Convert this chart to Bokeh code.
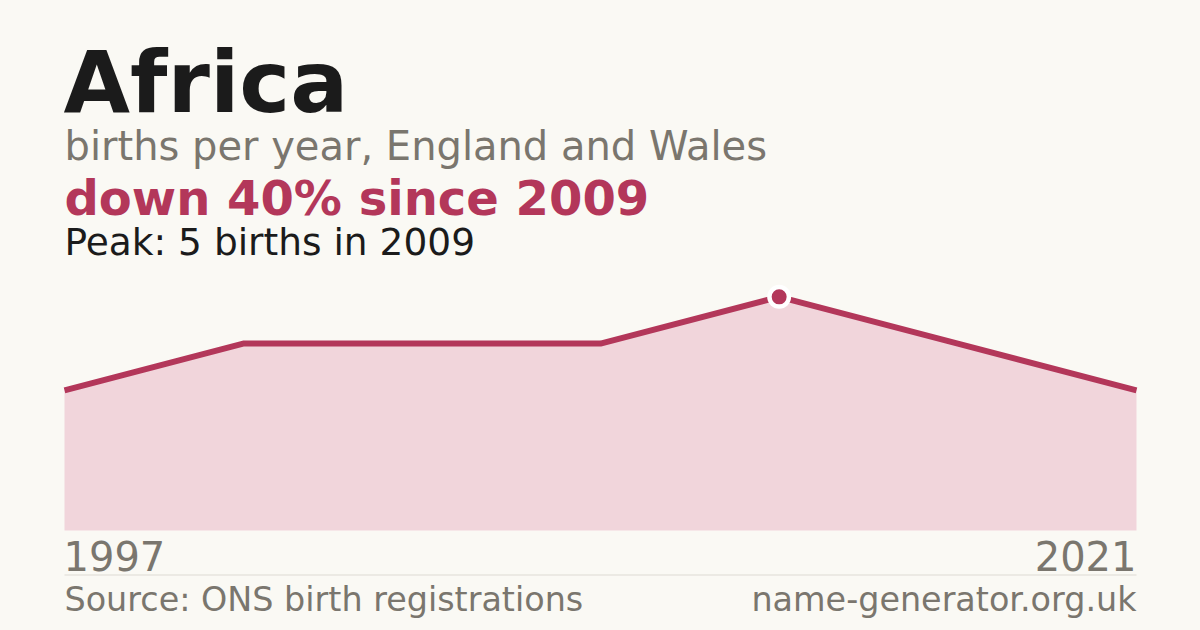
from bokeh.plotting import figure
from bokeh.models import Range1d
from bokeh.core.properties import value
from bokeh.embed import file_html
from bokeh.resources import INLINE

# ---- data ----
years = [1997, 2001, 2005, 2009, 2013, 2017, 2021]
births = [3, 4, 4, 4, 5, 4, 3]
title = "Africa"
subtitle = "births per year, England and Wales"
headline = "down 40% since 2009"
peak_note = "Peak: 5 births in 2009"
source = "Source: ONS birth registrations"
site = "name-generator.org.uk"
first_label = str(years[0])
last_label = str(years[-1])

# ---- style ----
BG = "#faf9f4"
RED = "#b3375a"
FILL = "#f1d5db"
GRAY = "#7a766e"
DARK = "#1b1b1b"
FONT = value("DejaVu Sans")

W, H = 1200, 630
L, R = 64, 1136          # chart left/right pixels
B, T = 530, 273          # chart baseline/top pixels (from top)
ymax = max(births) * 1.1

sx = (R - L) / (years[-1] - years[0])
sy = (B - T) / ymax
x0 = years[0] - L / sx
x1 = years[-1] + (W - R) / sx
y0 = -(H - B) / sy
y1 = B / sy


def dx(px):
    return x0 + px / sx


def dy(py):
    return y1 - py / sy


p = figure(width=W, height=H, output_backend="svg", toolbar_location=None,
           x_range=Range1d(x0, x1), y_range=Range1d(y0, y1),
           min_border=0, min_border_left=0, min_border_right=0,
           min_border_top=0, min_border_bottom=0)
p.axis.visible = False
p.grid.visible = False
p.outline_line_color = None
p.background_fill_color = BG
p.border_fill_color = BG

# area + line
p.varea(x=years, y1=[0] * len(years), y2=births, fill_color=FILL)
p.line(x=years, y=births, line_color=RED, line_width=6)

# peak marker: white halo + red dot
i_peak = births.index(max(births))
p.scatter(x=[years[i_peak]], y=[births[i_peak]], size=24, fill_color="white",
          line_color=None)
p.scatter(x=[years[i_peak]], y=[births[i_peak]], size=15, fill_color=RED,
          line_color=None)

# separator line
p.line(x=[dx(L), dx(R)], y=[dy(574.5), dy(574.5)], line_color="#dddad3", line_width=1)

SHIFT = 0.37  # compensation for rendered baseline offset


def txt(x, y, s, size, color, bold=False, align="left"):
    p.text(x=[dx(x)], y=[dy(y - SHIFT * size)], text=[s], text_font=FONT,
           text_font_size=f"{size}px", text_color=color,
           text_font_style="bold" if bold else "normal",
           text_align=align, text_baseline="alphabetic")


txt(L - 1, 113, title, 86, DARK, bold=True)
txt(L, 160, subtitle, 40, GRAY)
txt(L, 215, headline, 48, RED, bold=True)
txt(L, 255, peak_note, 37.5, DARK)
txt(L - 1, 570, first_label, 40, GRAY)
txt(R, 570, last_label, 40, GRAY, align="right")
txt(L, 611, source, 33.4, GRAY)
txt(R, 611, site, 33.4, GRAY, align="right")

html = file_html(p, INLINE)
html = html.replace("<head>", "<head><style>body{background:%s;}</style>" % BG, 1)
open("out.html", "w").write(html)
